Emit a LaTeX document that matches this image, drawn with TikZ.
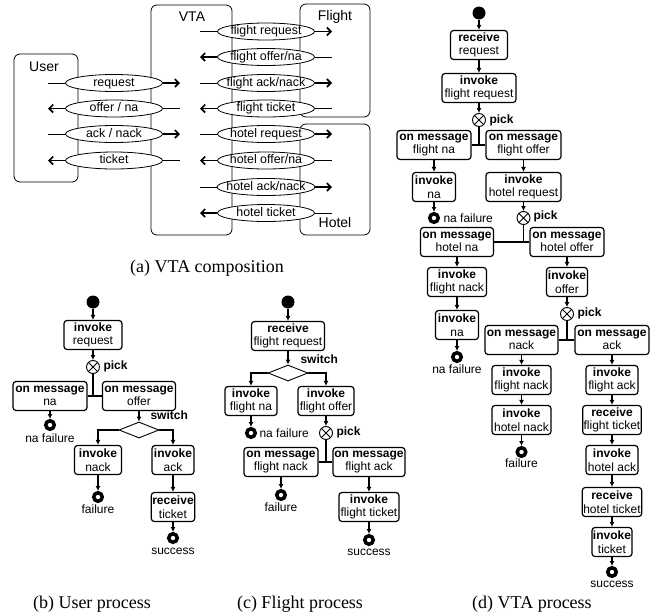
\documentclass[tikz,border=0pt]{standalone}
\usepackage{fontspec}
\setmainfont{Liberation Serif}
\setsansfont{Liberation Sans}
\usetikzlibrary{shapes.geometric,arrows.meta}

\begin{document}
\begin{tikzpicture}[x=1pt,y=-1pt,every node/.style={font=\sffamily\fontsize{12}{13.5}\selectfont}]
\tikzstyle{party} = [draw,rounded corners=6pt,line width=0.8pt]
\tikzstyle{partyname} = [font=\sffamily\fontsize{14}{16}\selectfont]
\tikzstyle{msg} = [ellipse,draw,fill=white,line width=0.8pt,minimum width=97pt,minimum height=17pt,inner xsep=-5pt,inner ysep=-1.5pt,text height=8.5pt,text depth=2.5pt,font=\sffamily\fontsize{12.4}{14}\selectfont]
\tikzstyle{wire} = [line width=0.8pt]
\tikzstyle{send} = [line width=1.6pt,-{Straight Barb[length=4pt,width=8pt]}]
\tikzstyle{act} = [draw,rounded corners=3pt,line width=1.2pt,align=center,inner sep=1pt,minimum height=29pt]
\tikzstyle{init} = [circle,fill,inner sep=0pt,minimum size=13pt]
\tikzstyle{final} = [circle,draw,line width=3.5pt,inner sep=0pt,minimum size=8.5pt]
\tikzstyle{choice} = [circle,draw,line width=0.9pt,inner sep=0pt,minimum size=13pt,path picture={\draw[line width=0.9pt] (path picture bounding box.north west) -- (path picture bounding box.south east) (path picture bounding box.north east) -- (path picture bounding box.south west);}]
\tikzstyle{cond} = [diamond,draw,line width=0.9pt,inner sep=0pt,minimum width=40pt,minimum height=16pt]
\tikzstyle{flow} = [line width=1.3pt,-{Latex[length=5pt,width=5pt]}]
\tikzstyle{branch} = [line width=2pt,-{Latex[length=5pt,width=5pt]}]
\tikzstyle{fork} = [line width=1.2pt]
\tikzstyle{caption} = [font=\rmfamily\fontsize{18}{20}\selectfont]
\useasboundingbox (0,0) rectangle (657,616);

% (a) VTA composition
\node [party,minimum width=64pt,minimum height=128pt] (v1) at (46,118) {};
\node [party,minimum width=81pt,minimum height=230pt] (v2) at (191.5,120) {};
\node [party,minimum width=70pt,minimum height=113pt] (v3) at (335,60.5) {};
\node [party,minimum width=70pt,minimum height=111pt] (v4) at (335,179.5) {};
\node [partyname] (v5) at (44,67) {User};
\node [partyname] (v6) at (192,17) {VTA};
\node [partyname] (v7) at (335,17) {Flight};
\node [partyname] (v8) at (335,222) {Hotel};

\node [msg] (v9) at (114,83) {request};
\node [msg] (v10) at (114,108.5) {offer / na};
\node [msg] (v11) at (114,134) {ack / nack};
\node [msg] (v12) at (114,160.5) {ticket};
\node [msg] (v13) at (266,31.5) {flight request};
\node [msg] (v14) at (266,57) {flight offer/na};
\node [msg] (v15) at (266,83) {flight ack/nack};
\node [msg] (v16) at (266,108.5) {flight ticket};
\node [msg] (v17) at (266,134) {hotel request};
\node [msg] (v18) at (266,160.5) {hotel offer/na};
\node [msg] (v19) at (266,187) {hotel ack/nack};
\node [msg] (v20) at (266,213) {hotel ticket};

\coordinate (c1) at (48,83);
\coordinate (c2) at (180,83);
\coordinate (c3) at (48,108.5);
\coordinate (c4) at (180,108.5);
\coordinate (c5) at (48,134);
\coordinate (c6) at (180,134);
\coordinate (c7) at (48,160.5);
\coordinate (c8) at (180,160.5);
\coordinate (c9) at (200,31.5);
\coordinate (c10) at (332,31.5);
\coordinate (c11) at (200,57);
\coordinate (c12) at (332,57);
\coordinate (c13) at (200,83);
\coordinate (c14) at (332,83);
\coordinate (c15) at (200,108.5);
\coordinate (c16) at (332,108.5);
\coordinate (c17) at (200,134);
\coordinate (c18) at (332,134);
\coordinate (c19) at (200,160.5);
\coordinate (c20) at (332,160.5);
\coordinate (c21) at (200,187);
\coordinate (c22) at (332,187);
\coordinate (c23) at (200,213);
\coordinate (c24) at (332,213);

\draw [wire] (c1) -- (v9);
\draw [send] (v9) -- (c2);
\draw [send] (v10) -- (c3);
\draw [wire] (c4) -- (v10);
\draw [wire] (c5) -- (v11);
\draw [send] (v11) -- (c6);
\draw [send] (v12) -- (c7);
\draw [wire] (c8) -- (v12);
\draw [wire] (c9) -- (v13);
\draw [send] (v13) -- (c10);
\draw [send] (v14) -- (c11);
\draw [wire] (c12) -- (v14);
\draw [wire] (c13) -- (v15);
\draw [send] (v15) -- (c14);
\draw [send] (v16) -- (c15);
\draw [wire] (c16) -- (v16);
\draw [wire] (c17) -- (v17);
\draw [send] (v17) -- (c18);
\draw [send] (v18) -- (c19);
\draw [wire] (c20) -- (v18);
\draw [wire] (c21) -- (v19);
\draw [send] (v19) -- (c22);
\draw [send] (v20) -- (c23);
\draw [wire] (c24) -- (v20);
\node [caption] (v21) at (207,268) {(a) VTA composition};

% (b) User process
\node [init] (v22) at (93,302) {};
\node [act,minimum width=58pt] (v23) at (93,335) {\textbf{invoke}\\request};
\node [choice] (v24) at (93,367) {};
\node [anchor=west] (v25) at (100,366) {\textbf{pick}};
\node [act,minimum width=74pt] (v26) at (50,396) {\textbf{on message}\\na};
\node [act,minimum width=73pt] (v27) at (139,396) {\textbf{on message}\\offer};
\node [final] (v28) at (50,425) {};
\node (v29) at (50,438) {na failure};
\node [cond] (v30) at (139,430) {};
\node [anchor=west] (v31) at (147,415) {\textbf{switch}};
\node [act,minimum width=47pt] (v32) at (98,460) {\textbf{invoke}\\nack};
\node [act,minimum width=42pt] (v33) at (173,460) {\textbf{invoke}\\ack};
\node [final] (v34) at (98,497) {};
\node (v35) at (98,509) {failure};
\node [act,minimum width=43pt] (v36) at (173,507) {\textbf{receive}\\ticket};
\node [final] (v37) at (173,538) {};
\node (v38) at (173,551) {success};

\draw [flow] (v22) edge (v23);
\draw [flow] (v23) edge (v24);
\draw [fork] (v24) -- (v24 |- v26.east);
\draw [fork] (v26) edge (v27);
\draw [flow] (v26) edge (v28);
\draw [flow] (v27) edge (v30);
\draw [branch] (v30.west) -| (v32);
\draw [branch] (v30.east) -| (v33);
\draw [flow] (v32) edge (v34);
\draw [flow] (v33) edge (v36);
\draw [flow] (v36) edge (v37);
\node [caption] (v39) at (92,604) {(b) User process};

% (c) Flight process
\node [init] (v40) at (288,302) {};
\node [act,minimum width=73pt] (v41) at (288,336) {\textbf{receive}\\flight request};
\node [cond] (v42) at (288,373) {};
\node [anchor=west] (v43) at (297,359) {\textbf{switch}};
\node [act,minimum width=52pt] (v44) at (251,401) {\textbf{invoke}\\flight na};
\node [act,minimum width=56pt] (v45) at (326,401) {\textbf{invoke}\\flight offer};
\node [final] (v46) at (251,433) {};
\node [anchor=west] (v47) at (256,433) {na failure};
\node [choice] (v48) at (326,433) {};
\node [anchor=west] (v49) at (333,432) {\textbf{pick}};
\node [act,minimum width=74pt] (v50) at (281,462) {\textbf{on message}\\flight nack};
\node [act,minimum width=72pt] (v51) at (369,462) {\textbf{on message}\\flight ack};
\node [final] (v52) at (281,495) {};
\node (v53) at (281,507) {failure};
\node [act,minimum width=60pt] (v54) at (369,507) {\textbf{invoke}\\flight ticket};
\node [final] (v55) at (369,540) {};
\node (v56) at (369,552) {success};

\draw [flow] (v40) edge (v41);
\draw [flow] (v41) edge (v42);
\draw [branch] (v42.west) -| (v44);
\draw [branch] (v42.east) -| (v45);
\draw [flow] (v44) edge (v46);
\draw [flow] (v45) edge (v48);
\draw [fork] (v48) -- (v48 |- v50.east);
\draw [fork] (v50) edge (v51);
\draw [flow] (v50) edge (v52);
\draw [flow] (v51) edge (v54);
\draw [flow] (v54) edge (v55);
\node [caption] (v57) at (300,604) {(c) Flight process};

% (d) VTA process
\node [init] (v58) at (479,13) {};
\node [act,minimum width=57pt] (v59) at (479,45) {\textbf{receive}\\request};
\node [act,minimum width=74pt] (v60) at (479,88) {\textbf{invoke}\\flight request};
\node [choice] (v61) at (479,120) {};
\node [anchor=west] (v62) at (486,120) {\textbf{pick}};
\node [act,minimum width=74pt] (v63) at (434,145) {\textbf{on message}\\flight na};
\node [act,minimum width=75pt] (v64) at (523.5,145) {\textbf{on message}\\flight offer};
\node [act,minimum width=43pt] (v65) at (434,187) {\textbf{invoke}\\na};
\node [act,minimum width=75pt] (v66) at (523.5,187) {\textbf{invoke}\\hotel request};
\node [final] (v67) at (434,218) {};
\node [anchor=west] (v68) at (440,218) {na failure};
\node [choice] (v69) at (523.5,218) {};
\node [anchor=west] (v70) at (530,216) {\textbf{pick}};
\node [act,minimum width=73pt] (v71) at (457,242) {\textbf{on message}\\hotel na};
\node [act,minimum width=74pt] (v72) at (567,242) {\textbf{on message}\\hotel offer};
\node [act,minimum width=59pt] (v73) at (457,282) {\textbf{invoke}\\flight nack};
\node [act,minimum width=41pt] (v74) at (567,282) {\textbf{invoke}\\offer};
\node [act,minimum width=43pt] (v75) at (457,325) {\textbf{invoke}\\na};
\node [final] (v76) at (457,357) {};
\node (v77) at (457,369) {na failure};
\node [choice] (v78) at (567,314) {};
\node [anchor=west] (v79) at (574,313) {\textbf{pick}};
\node [act,minimum width=73pt] (v80) at (521.5,340) {\textbf{on message}\\nack};
\node [act,minimum width=74pt] (v81) at (612,340) {\textbf{on message}\\ack};
\node [act,minimum width=59pt] (v82) at (521.5,380) {\textbf{invoke}\\flight nack};
\node [act,minimum width=59pt] (v83) at (521.5,420) {\textbf{invoke}\\hotel nack};
\node [final] (v84) at (521.5,452) {};
\node (v85) at (521.5,463) {failure};
\node [act,minimum width=52pt] (v86) at (612,380) {\textbf{invoke}\\flight ack};
\node [act,minimum width=57pt] (v87) at (612,420) {\textbf{receive}\\flight ticket};
\node [act,minimum width=52pt] (v88) at (612,460) {\textbf{invoke}\\hotel ack};
\node [act,minimum width=57pt] (v89) at (612,502) {\textbf{receive}\\hotel ticket};
\node [act,minimum width=38pt] (v90) at (612,542) {\textbf{invoke}\\ticket};
\node [final] (v91) at (612,572) {};
\node (v92) at (612,584) {success};

\draw [flow] (v58) edge (v59);
\draw [flow] (v59) edge (v60);
\draw [flow] (v60) edge (v61);
\draw [fork] (v61) -- (v61 |- v63.east);
\draw [fork] (v63) edge (v64);
\draw [flow] (v63) edge (v65);
\draw [flow] (v64) edge (v66);
\draw [flow] (v65) edge (v67);
\draw [flow] (v66) edge (v69);
\draw [fork] (v69) -- (v69 |- v71.east);
\draw [fork] (v71) edge (v72);
\draw [flow] (v71) edge (v73);
\draw [flow] (v72) edge (v74);
\draw [flow] (v73) edge (v75);
\draw [flow] (v75) edge (v76);
\draw [flow] (v74) edge (v78);
\draw [fork] (v78) -- (v78 |- v80.east);
\draw [fork] (v80) edge (v81);
\draw [flow] (v80) edge (v82);
\draw [flow] (v82) edge (v83);
\draw [flow] (v83) edge (v84);
\draw [flow] (v81) edge (v86);
\draw [flow] (v86) edge (v87);
\draw [flow] (v87) edge (v88);
\draw [flow] (v88) edge (v89);
\draw [flow] (v89) edge (v90);
\draw [flow] (v90) edge (v91);
\node [caption] (v93) at (532,604) {(d) VTA process};
\end{tikzpicture}
\end{document}
